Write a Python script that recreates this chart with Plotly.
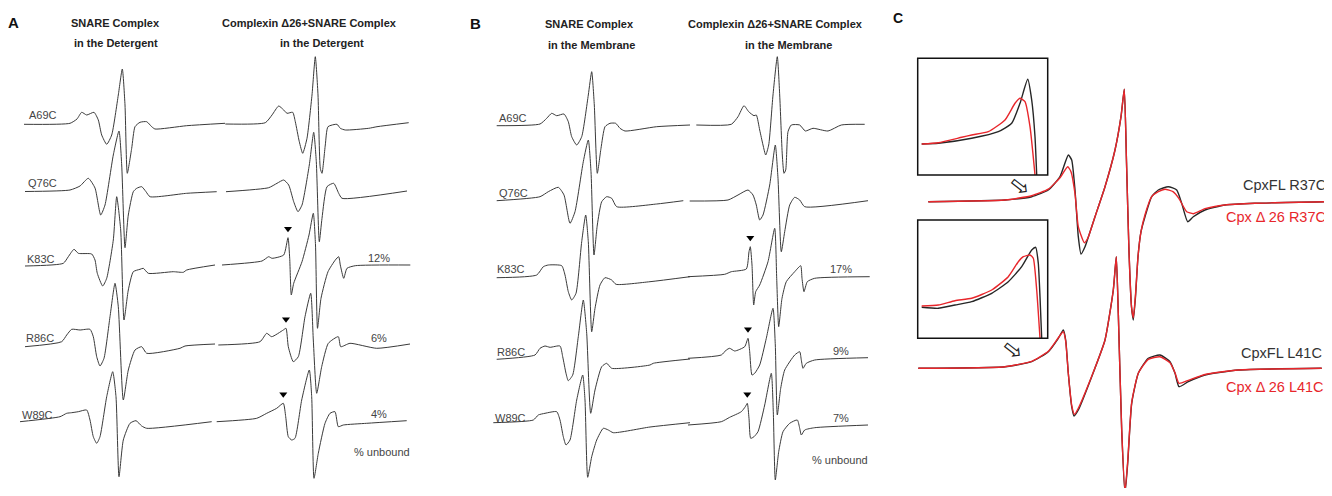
import plotly.graph_objects as go

# ---------------- DATA ----------------
# Rows (spin-label positions)
ROWS = ["A69C", "Q76C", "K83C", "R86C", "W89C"]

# Panel A, left column: SNARE complex in detergent  (field offset, signal amplitude)
AL_A69C_F = [4, 50, 57, 61.7, 66.7, 74, 78.3, 81.7, 86.7, 91.7, 98.3, 102.3, 105, 107.3, 111.7, 115, 120, 126.7, 131.7, 135, 166.7, 205]
AL_A69C_S = [0, 1, 5.3, 12, 9.3, 12, 4.3, -10.7, -20, -10.7, 29.3, 55.3, 19.3, -49, -24, -2.4, 2, 2.6, -2.4, -4.7, -1.4, 1]
AL_Q76C_F = [5, 50, 60, 68.3, 75, 80.7, 85, 93.3, 99, 101.7, 105, 108.3, 113.3, 116.7, 121.7, 126, 130, 166.7, 196.7]
AL_Q76C_S = [0, 1.5, 5.5, 13.2, 3.5, -23.5, -13.5, 36.5, 60.5, 26.5, -56.2, -23.5, -0.2, 3.2, 4.8, -0.2, -5.2, -1.8, -0.2]
AL_K83C_F = [5, 43.3, 48.3, 54, 58.3, 71.7, 75, 77.3, 82.7, 86.7, 93.3, 96.7, 100.7, 104, 108.3, 113.3, 120, 123.3, 128.3, 153.3, 163.3, 166.7, 195]
AL_K83C_S = [0.7, 3.4, 10, 17.4, 13.4, 12.7, 6.7, -6.6, -19.3, -11.6, 26.7, 70, 36.7, -53.3, -23.3, -5, -2.6, -1.6, -6.6, -5, -5.6, -3.3, 1.7]
AL_R86C_F = [5, 41.7, 46.7, 51.7, 60, 70, 73.3, 76.7, 80, 84, 90, 95, 98.3, 103.3, 108.3, 115, 121.7, 126.7, 160, 165, 195]
AL_R86C_S = [0, 5, 11.7, 17.4, 16.7, 17.4, 10, -10, -19.3, -11.6, 30, 63.4, 40, -53.3, -23.3, -3.3, 0, -6.6, -1.6, 0.7, 2.7]
AL_W89C_F = [0, 40, 46.7, 51.7, 58.3, 66.7, 70, 73.3, 76.7, 80, 86.7, 92.7, 96, 99, 103.3, 110, 116, 121.7, 126.7, 191.7]
AL_W89C_S = [0, 5, 8.4, 9, 10, 11.7, 1.7, -15, -21.6, -15, 25, 50, 25, -55, -18.3, -1.6, 1, -4.3, -6.6, 0]

# Panel A, right column: Complexin D26 + SNARE complex in detergent
AR_A69C_F = [0.3, 40.3, 47, 53.7, 58.7, 62, 67.7, 70.3, 74.3, 77.7, 82, 87, 90.3, 93, 95.3, 97, 100.3, 103, 112, 115.3, 120.3, 143.7, 152, 183.7]
AR_A69C_S = [0, 1.3, 9, 18, 14, 10.7, 11.7, 2.3, -17.7, -29.3, -14.3, 29, 67.3, 29, -44.3, -49.3, -21, -2.7, -0.3, -4.3, -6, -4.3, -2.7, 1.3]
AR_Q76C_F = [1, 43.7, 52, 58.7, 63.7, 68.7, 73, 77, 84.3, 88.7, 91.3, 94.3, 97, 102, 108.7, 113.7, 117, 182]
AR_Q76C_S = [0, 4, 8.4, 11.7, 6.7, -10, -20, -13.3, 26.7, 59.4, 30, -50, -26.6, 5, 8.4, -1.6, -6.6, 0.7]
AR_K83C_F = [-3, 37, 43.7, 47, 58.7, 63, 64.7, 66.3, 68.7, 77, 84, 88.3, 90.5, 92.5, 96, 103, 110.3, 113.7, 115.3, 118.7, 122, 130.3, 185.3]
AR_K83C_S = [0, 4, 8.3, 6.7, 10, 27.3, 6.7, -30, -18.3, 3.3, 30, 51.7, 20, -63.3, -33.3, -6.7, 5, 8.3, 0, -13.3, -3.3, -0.7, 0]
AR_R86C_F = [-6.7, 35, 41.7, 46.7, 58.3, 61, 63.3, 68.3, 73.3, 80, 85.7, 88.3, 91.7, 96.7, 103.3, 113.3, 115.7, 125, 151.7, 185]
AR_R86C_S = [0, 3.3, 11.7, 8.3, 15, 16.7, -1.7, -16.7, -11.7, 28.3, 51.7, 5, -48.3, -21.7, 1.7, 8.3, -1.7, 1.7, -3.3, 1]
AR_W89C_F = [-8.3, 31.7, 41.7, 51.7, 58.3, 60.7, 63.3, 66.7, 70, 76.7, 84.3, 86.7, 89, 93.3, 100, 105, 110, 113.3, 118.3, 141.7, 181.7]
AR_W89C_S = [0, 3.4, 8.4, 13.4, 18.4, 5, -15, -18.3, -16.6, 21.7, 51.7, 25, -56.6, -31.6, -1.6, 8.4, 10, -5, -3.3, -1.6, 1]

# Panel B, left column: SNARE complex in the membrane
BL_A69C_F = [6.7, 50, 56.7, 61.7, 66.7, 74, 78.3, 81.7, 86.7, 91.7, 98.3, 101.7, 104.3, 107.3, 111, 115, 120, 125.7, 130, 135, 166.7, 200]
BL_A69C_S = [-0.7, 1, 6.7, 11.7, 9.3, 11, 3.3, -11.7, -20, -11.7, 30, 53.3, 20, -48.3, -23.3, -1.7, 1.7, 1.7, -3.3, -6, -1.7, 0]
BL_Q76C_F = [6.7, 50, 58.3, 68.3, 74, 80, 85, 93.3, 98.3, 101, 104, 107.3, 111.7, 116.7, 121.7, 126.7, 166.7, 193.3]
BL_Q76C_S = [0, 4, 9, 13.4, 5.7, -22.6, -11, 39, 60.7, 29, -54.3, -24.3, -1, 4, 2.4, -6, -3.3, 0]
BL_K83C_F = [6.7, 46.7, 53.3, 58.3, 71.7, 75, 78.3, 81.7, 86, 91.7, 95.7, 98.3, 101.7, 105, 110, 115, 121.7, 126, 160, 200]
BL_K83C_S = [0, 2.7, 11, 12.7, 12, 2.7, -14, -22.3, -15.6, 36, 62.7, 36, -54, -30.6, -7.3, 0, -2.3, -6.6, -4, 1]
BL_R86C_F = [6.7, 45, 50, 55, 60, 70, 72.7, 76, 78.3, 82.7, 88.3, 93.3, 96.7, 100.7, 105, 111.7, 116.7, 121.7, 160, 163.3, 200]
BL_R86C_S = [0, 4.3, 11, 13.3, 12, 13.3, 2.6, -14, -21.4, -15.7, 22.6, 59.3, 26, -54, -30.7, -7.4, -4, -9, -5.7, -4, 0.3]
BL_W89C_F = [3.3, 43.3, 48.3, 55, 66.7, 70, 73.3, 76, 80, 86.7, 92.7, 95, 97.7, 101.7, 106.7, 113.3, 118.3, 123.3, 160, 200]
BL_W89C_S = [0, 2.7, 7.7, 9.4, 11, 2.7, -14, -22.3, -17.3, 22.7, 47.7, 22.7, -54.6, -34, -17.3, -5.6, -7.3, -10, -4.3, 0]

# Panel B, right column: Complexin D26 + SNARE complex in the membrane
BR_A69C_F = [6.3, 41.3, 48, 54, 58.7, 64, 66.3, 69.7, 73, 75.7, 78.7, 83, 87.3, 89.7, 92.3, 94, 95.7, 98, 101.3, 109.7, 115.3, 123, 138, 151.3, 174.7]
BR_A69C_S = [0, 0.7, 8.3, 19.3, 13.3, 9.3, 10, -5, -20, -30, -20, 30, 68.3, 30, -30, -48.3, -45, -6.7, 0, 0, -6, -3.3, -6, 0, 0.7]
BR_Q76C_F = [-0.3, 38, 48, 58, 63, 66.3, 69.7, 73, 79.7, 85.3, 88, 91.3, 94.7, 99.7, 104.7, 109.7, 114.7, 178]
BR_Q76C_S = [0, 1, 6, 11, 6, -4, -19, -14, 16, 56, 22.7, -50.7, -30.7, -4, 3.7, 1, -5.7, 0.3]
BR_K83C_F = [-2, 34.7, 41.3, 56.3, 59, 60.3, 62, 63.7, 65.7, 69.7, 78, 84.7, 86.7, 88.7, 92, 96.3, 104.7, 110.7, 112, 114, 117.3, 124.7, 179.7]
BR_K83C_S = [0, 2.4, 5, 7.7, 25, 30, 11.7, -28.3, -15, -8.3, 15, 48.4, -1.6, -50, -21.6, -5, 5, 11, -1.6, -15, -5, -1.6, 0]
BR_R86C_F = [-2, 31.3, 36.3, 39.7, 44.7, 54.7, 58, 59.7, 62, 64.7, 69.7, 76.3, 83, 85.3, 87.3, 90.7, 94.7, 104.7, 109.7, 111.3, 113, 116.3, 124.7, 178]
BR_R86C_S = [0, 3.3, 8.3, 10, 7.3, 11.6, 20, 6.6, -16.7, -15, -6.7, 20, 50, 13.3, -56.7, -30, -11.7, 3.3, 6.6, -1.7, -10, -5, -1.7, 0.6]
BR_W89C_F = [-2, 31.3, 39.7, 51.3, 55.3, 57.3, 59, 60.7, 64, 68, 74.7, 81.3, 83.3, 85.3, 88.7, 93, 99.7, 107.3, 109.7, 111.3, 114.7, 124.7, 178]
BR_W89C_S = [0, 3.3, 7.7, 13.3, 18.3, 21.7, 6.7, -13.3, -11.7, -6.7, 20, 51.7, 13.3, -55, -26.7, -6.7, 1.7, 5, -3.3, -10, -5, -2.7, 0]

# % unbound (rows K83C, R86C, W89C)
UNBOUND_DET = [12, 6, 4]
UNBOUND_MEM = [17, 9, 7]

# Panel C: CpxFL (black) vs Cpx D26 (red)
C_R37C_FL_F = [10.3, 87, 113.7, 130.3, 142, 150.3, 153.7, 157, 160.3, 163, 167, 177, 187, 197, 203, 206.3, 208.5, 211, 213.5, 215.3, 217.5, 220, 223, 227, 233.7, 240.3, 250.3, 258.7, 263.7, 269.7, 275.3, 287, 307, 337, 412]
C_R37C_FL_S = [0, 1.7, 5, 11.7, 25, 46.7, 41.7, 11.7, -35, -52.3, -45, -15, 15, 51.7, 85, 112.4, 40, -50, -105, -118.3, -95, -55, -30, -15, 5, 11.7, 15, 11.7, -1.6, -20, -15, -8.3, -3.3, -1.6, 0]
C_R37C_D26_F = [10.3, 87, 113.7, 130.3, 142, 149.7, 153, 157, 160.3, 166.3, 170, 177, 187, 197, 203, 206.3, 208.5, 211, 213.5, 215.3, 217.5, 220, 223, 227, 233.7, 240.3, 247, 255, 261, 266, 268.7, 275.3, 287, 307, 337, 412]
C_R37C_D26_S = [0, 1.7, 6, 12.5, 24, 35, 30, 8, -25, -41, -36, -15, 15, 51.7, 85, 112.4, 40, -50, -105, -116, -93, -55, -30, -13, 5, 10, 12.5, 10, 3, -6, -10, -12, -7, -3.3, -1.6, 0]
C_L41C_FL_F = [0.3, 87, 113.7, 130.3, 140.3, 145.3, 147.7, 150.3, 153.7, 156, 160.3, 173.7, 187, 195.3, 198.3, 200.3, 203.7, 207, 209.7, 213.7, 220.3, 230.3, 242, 252, 257, 261, 270.3, 287, 320.3, 403.7]
C_L41C_FL_S = [0, 1.6, 6.6, 16.6, 30, 38.3, 28.3, -5, -38.4, -47.7, -41.7, -8.4, 28.3, 78.3, 111.6, 55, -61.7, -125, -95, -35, -5, 10, 13.3, 6.6, -5, -18.4, -13.4, -6.7, -1.7, 0]
C_L41C_D26_F = [0.3, 87, 113.7, 130.3, 140.3, 145.3, 147.7, 150.3, 153.7, 156.5, 160.3, 173.7, 187, 195.3, 198.3, 200.3, 203.7, 207, 209.7, 213.7, 220.3, 230.3, 242, 252, 257, 261, 270.3, 287, 320.3, 403.7]
C_L41C_D26_S = [0, 1.6, 7, 17, 30.5, 36.5, 27, -5, -37, -46, -40, -8, 28.3, 78.3, 111.6, 55, -61.7, -123, -93, -34, -5, 9, 11.5, 5.5, -4.5, -15, -12, -6.2, -1.7, 0]

# Insets (zoom of the low-field edge)
IN1_FL_F = [4, 20.6, 54, 80.6, 94, 102.3, 110, 114, 117.3, 119]
IN1_FL_S = [31, 31.7, 36.7, 43.3, 51.7, 71.7, 95.7, 75, 38.3, 0]
IN1_D26_F = [4, 20.6, 44, 54, 70.6, 87.3, 97.3, 102.3, 107.3, 112.3, 117.3]
IN1_D26_S = [31, 32.3, 37.7, 40, 43.3, 55, 71.7, 76.7, 73.3, 48.3, 0]
IN2_FL_F = [4, 20.6, 37.3, 54, 74, 90.6, 104, 114, 118, 120.6, 122.3, 124]
IN2_FL_S = [31, 30, 33.3, 36.6, 45, 56.6, 71.6, 88.3, 91, 75, 41.6, 0]
IN2_D26_F = [4, 20.6, 37.3, 54, 74, 90.6, 100.6, 105.6, 112.3, 115.6, 119, 122.3]
IN2_D26_S = [32.3, 33.3, 37.6, 40, 48.3, 61.6, 76.6, 81.6, 83.3, 80, 48.3, 0]

C_LABELS = ["CpxFL R37C", "Cpx \u0394 26 R37C", "CpxFL L41C", "Cpx \u0394 26 L41C"]

# ---------------- LAYOUT CONSTANTS ----------------
W, H = 1332, 496
PAGE_MARGIN = 8          # default body margin of the html page
FONT = "Liberation Sans, Arial, sans-serif"
TRACE_COLOR = "#3a3a3a"
BLACK = "#262626"
RED = "#e8262b"

fig = go.Figure()


def add_line(x0, base, F, S, color, width, smooth=0.55):
    fig.add_trace(go.Scatter(
        x=[x0 + f for f in F], y=[base - s for s in S], mode="lines",
        line=dict(color=color, width=width, shape="spline", smoothing=smooth),
        hoverinfo="skip", showlegend=False))


def text(x, y, s, size=11, bold=False, color="#333333", anchor="center", angle=0, family=FONT):
    fig.add_annotation(x=x, y=y, xref="x", yref="y", text=("<b>%s</b>" % s) if bold else s,
                       showarrow=False, xanchor=anchor, yanchor="middle", textangle=angle,
                       font=dict(family=family, size=size, color=color))


panels = [
    dict(letter="A", letter_xy=(13.5, 22), medium="Detergent",
         xl=20, xr=225,
         base_l=[124.3, 191.5, 266.7, 346.7, 421.7], base_r=[124, 191.7, 265, 345, 421.7],
         left=[(AL_A69C_F, AL_A69C_S), (AL_Q76C_F, AL_Q76C_S), (AL_K83C_F, AL_K83C_S), (AL_R86C_F, AL_R86C_S), (AL_W89C_F, AL_W89C_S)],
         right=[(AR_A69C_F, AR_A69C_S), (AR_Q76C_F, AR_Q76C_S), (AR_K83C_F, AR_K83C_S), (AR_R86C_F, AR_R86C_S), (AR_W89C_F, AR_W89C_S)],
         label_x=[26.5, 26, 25, 24, 20], label_dy=[9.3, 8.2, 7.7, 8.4, 6.7],
         head_l=(115, 116), head_r=(309.3, 322.3), head_y=(23.2, 43.3),
         unbound=UNBOUND_DET, pct_x=379, unbound_xy=(381.7, 451.7)),
    dict(letter="B", letter_xy=(475, 23), medium="Membrane",
         xl=490, xr=690,
         base_l=[125, 200.7, 277.7, 359.3, 422.7], base_r=[125, 201, 276.7, 358.3, 425],
         left=[(BL_A69C_F, BL_A69C_S), (BL_Q76C_F, BL_Q76C_S), (BL_K83C_F, BL_K83C_S), (BL_R86C_F, BL_R86C_S), (BL_W89C_F, BL_W89C_S)],
         right=[(BR_A69C_F, BR_A69C_S), (BR_Q76C_F, BR_Q76C_S), (BR_K83C_F, BR_K83C_S), (BR_R86C_F, BR_R86C_S), (BR_W89C_F, BR_W89C_S)],
         label_x=[496.7, 496.7, 495, 495, 492.7], label_dy=[7.3, 8, 8.4, 7, 4.4],
         head_l=(589.3, 591.7), head_r=(775, 788.3), head_y=(24.3, 45),
         unbound=UNBOUND_MEM, pct_x=841, unbound_xy=(840, 460)),
]

for p in panels:
    text(p["letter_xy"][0], p["letter_xy"][1], p["letter"], size=15, bold=True, color="#111111")
    text(p["head_l"][0], p["head_y"][0], "SNARE Complex", size=11, bold=True, color="#222222")
    text(p["head_l"][1], p["head_y"][1], "in the %s" % p["medium"], size=11, bold=True, color="#222222")
    text(p["head_r"][0], p["head_y"][0], "Complexin \u039426+SNARE Complex", size=11, bold=True, color="#222222")
    text(p["head_r"][1], p["head_y"][1], "in the %s" % p["medium"], size=11, bold=True, color="#222222")
    tri_x, tri_y = [], []
    for i, row in enumerate(ROWS):
        F, S = p["left"][i]
        add_line(p["xl"], p["base_l"][i], F, S, TRACE_COLOR, 1.0)
        F2, S2 = p["right"][i]
        add_line(p["xr"], p["base_r"][i], F2, S2, TRACE_COLOR, 1.0)
        text(p["label_x"][i], p["base_l"][i] - p["label_dy"][i], row, size=11, color="#444444", anchor="left")
        if i >= 2:
            # mobile (unbound) component: sharp low-field peak of the right spectrum
            cand = [(s, f) for f, s in zip(F2, S2) if f < 75]
            s_max, f_max = max(cand)
            tri_x.append(p["xr"] + f_max)
            tri_y.append(p["base_r"][i] - s_max - 9)
            text(p["pct_x"], p["base_r"][i] - 7.5, "%d%%" % p["unbound"][i - 2], size=11, color="#444444")
    fig.add_trace(go.Scatter(x=tri_x, y=tri_y, mode="markers",
                             marker=dict(symbol="triangle-down", size=7, color="#000000"),
                             hoverinfo="skip", showlegend=False))
    text(p["unbound_xy"][0], p["unbound_xy"][1], "% unbound", size=11, color="#444444")

# ---- Panel C ----
text(898, 17.5, "C", size=14, bold=True, color="#111111")
CX0 = 918
add_line(CX0, 201.7, C_R37C_FL_F, C_R37C_FL_S, BLACK, 1.4, 0.5)
add_line(CX0, 201.7, C_R37C_D26_F, C_R37C_D26_S, RED, 1.4, 0.5)
add_line(CX0, 368.3, C_L41C_FL_F, C_L41C_FL_S, BLACK, 1.4, 0.5)
add_line(CX0, 368.3, C_L41C_D26_F, C_L41C_D26_S, RED, 1.4, 0.5)

insets = [((917.7, 58.3, 1047.7, 175), (IN1_FL_F, IN1_FL_S), (IN1_D26_F, IN1_D26_S)),
          ((917.7, 220, 1047.7, 338.3), (IN2_FL_F, IN2_FL_S), (IN2_D26_F, IN2_D26_S))]
for (x0, y0, x1, y1), fl, d26 in insets:
    fig.add_shape(type="rect", xref="x", yref="y", x0=x0, y0=y0, x1=x1, y1=y1,
                  line=dict(color="#111111", width=1.5), fillcolor="rgba(0,0,0,0)")
    add_line(x0, y1, fl[0], fl[1], BLACK, 1.4, 0.5)
    add_line(x0, y1, d26[0], d26[1], RED, 1.4, 0.5)

# hollow arrows pointing to the zoomed region
text(1020, 186, "\u21e8", size=24, color="#222222", angle=38, family="DejaVu Sans")
text(1013.3, 350, "\u21e8", size=24, color="#222222", angle=38, family="DejaVu Sans")

text(1328, 185, C_LABELS[0], size=14.5, color="#333333", anchor="right")
text(1328, 216.7, C_LABELS[1], size=14.5, color=RED, anchor="right")
text(1324, 353.3, C_LABELS[2], size=14.5, color="#333333", anchor="right")
text(1326, 387.3, C_LABELS[3], size=14.5, color=RED, anchor="right")

# The page adds an 8px body margin; the figure covers the window from that offset
# (its height is kept so that the page does not overflow vertically).
fig.update_layout(
    width=W - PAGE_MARGIN, height=H - 2 * PAGE_MARGIN, margin=dict(l=0, r=0, t=0, b=0),
    paper_bgcolor="white", plot_bgcolor="white",
    xaxis=dict(range=[PAGE_MARGIN, W], visible=False, fixedrange=True),
    yaxis=dict(range=[H - PAGE_MARGIN, PAGE_MARGIN], visible=False, fixedrange=True),
    showlegend=False,
)
fig.write_html("out.html")
